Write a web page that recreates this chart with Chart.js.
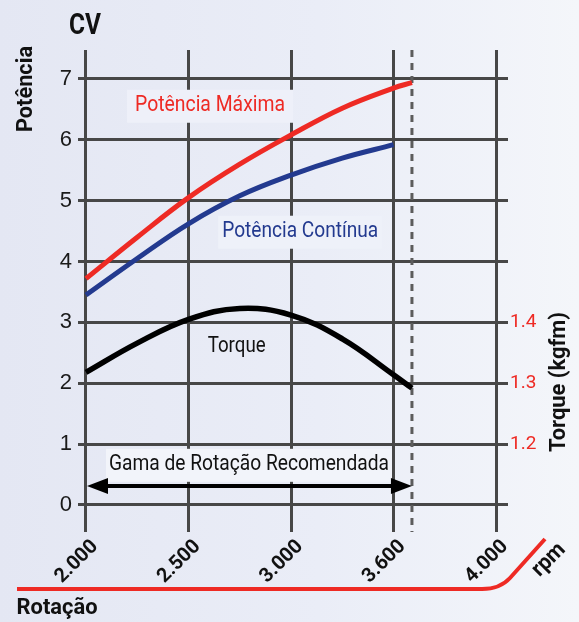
<!DOCTYPE html>
<html><head><meta charset="utf-8">
<script src="https://cdn.jsdelivr.net/npm/chart.js@4.4.1/dist/chart.umd.min.js"></script>
<style>
html,body{margin:0;padding:0;}
body{width:579px;height:622px;background:linear-gradient(90deg,#e4e7f3 0%,#eaedf7 55%,#f4f6fa 100%);overflow:hidden}
canvas{display:block}
</style></head><body>
<canvas id="c" width="579" height="622"></canvas>
<script>
// ---- data ----
const xTickLabels = ['2.000','2.500','3.000','3.600','4.000'];   // evenly spaced rpm marks
const yTicks = [0,1,2,3,4,5,6,7];                               // CV
const torqueTicks = [1.2,1.3,1.4];                              // kgfm
const posMaxima = [0,0.5,1,1.5,2,2.5,3,3.18];
const potMaxima = [3.72,4.40,5.05,5.60,6.08,6.52,6.85,6.94];
const posContinua = [0,0.5,1,1.5,2,2.5,3];
const potContinua = [3.45,4.05,4.62,5.08,5.42,5.70,5.92];
const posTorque = [0,0.5,1,1.5,2,2.5,3,3.18];
const torque = [1.318,1.366,1.405,1.423,1.412,1.373,1.314,1.292];
const rangeStart = 0, rangeEnd = 3.18;   // Gama de Rotação Recomendada

// ---- scale setup ----
const X_MIN = -0.078, X_MAX = 4.117, Y_MIN = -0.444, Y_MAX = 7.476;
const T_MIN = 1.1 + 0.1*Y_MIN, T_MAX = 1.1 + 0.1*Y_MAX;
const FONT = "Roboto,'DejaVu Sans',sans-serif";
const GRID = '#474747';
const RED = '#ee2a24', BLUE = '#233a8f';

const toPts = (xs, ys) => xs.map((v,i)=>({x:v, y:ys[i]}));

// draw text horizontally condensed to a given width (emulates a condensed typeface)
function fitText(ctx, text, cx, cy, font, color, width, rot){
  ctx.save();
  ctx.font = font;
  const w = ctx.measureText(text).width;
  ctx.translate(cx, cy);
  if (rot) ctx.rotate(rot);
  ctx.scale(width / w, 1);
  ctx.fillStyle = color; ctx.textAlign = 'center'; ctx.textBaseline = 'middle';
  ctx.fillText(text, 0, 0);
  ctx.restore();
}
function boxedText(ctx, text, cx, cy, font, color, width, padX, bg){
  if (bg){ ctx.fillStyle = bg; ctx.fillRect(cx - width/2 - padX, cy - 16, width + 2*padX, 33); }
  fitText(ctx, text, cx, cy, font, color, width, 0);
}

const deco = {
  id: 'deco',
  beforeDatasetsDraw(chart){
    const {ctx, chartArea: ca, scales: {x, y}} = chart;
    ctx.save();
    const xd = x.getPixelForValue(rangeEnd);
    ctx.strokeStyle = '#5c5c5c'; ctx.lineWidth = 3; ctx.setLineDash([7,6]);
    ctx.beginPath(); ctx.moveTo(xd, ca.top); ctx.lineTo(xd, ca.bottom); ctx.stroke();
    ctx.setLineDash([]);
    boxedText(ctx, 'Potência Máxima', x.getPixelForValue(1.21), y.getPixelForValue(6.56), `22px ${FONT}`, RED, 150, 8, '#eef0f9');
    boxedText(ctx, 'Potência Contínua', x.getPixelForValue(2.09), y.getPixelForValue(4.49), `22px ${FONT}`, BLUE, 156, 4, '#eef1f9');
    boxedText(ctx, 'Torque', x.getPixelForValue(1.47), y.getPixelForValue(2.61), `22px ${FONT}`, '#111', 58, 0, null);
    boxedText(ctx, 'Gama de Rotação Recomendada', x.getPixelForValue(1.59), y.getPixelForValue(0.66), `22px ${FONT}`, '#111', 280, 3, '#f2f4fa');
    ctx.restore();
  },
  afterDatasetsDraw(chart){
    const {ctx, scales: {x, y}} = chart;
    ctx.save();
    // arrow
    const ay = y.getPixelForValue(0.31);
    const x0 = x.getPixelForValue(rangeStart), x1 = x.getPixelForValue(rangeEnd);
    ctx.strokeStyle = '#000'; ctx.fillStyle = '#000'; ctx.lineWidth = 4;
    ctx.beginPath(); ctx.moveTo(x0 + 15, ay); ctx.lineTo(x1 - 15, ay); ctx.stroke();
    ctx.beginPath(); ctx.moveTo(x0 + 1, ay); ctx.lineTo(x0 + 22, ay - 8); ctx.lineTo(x0 + 22, ay + 8); ctx.closePath(); ctx.fill();
    ctx.beginPath(); ctx.moveTo(x1, ay); ctx.lineTo(x1 - 21, ay - 8); ctx.lineTo(x1 - 21, ay + 8); ctx.closePath(); ctx.fill();
    // titles
    fitText(ctx, 'CV', 85, 27, `bold 29px ${FONT}`, '#111', 32, 0);
    fitText(ctx, 'Rotação', 57, 608, `bold 22px ${FONT}`, '#111', 81, 0);
    fitText(ctx, 'Potência', 26, 89, `bold 22px ${FONT}`, '#111', 86, -Math.PI/2);
    fitText(ctx, 'Torque (kgfm)', 559, 382, `bold 22px ${FONT}`, '#111', 140, -Math.PI/2);
    fitText(ctx, 'rpm', 549, 560, `bold 22px ${FONT}`, '#111', 38, -Math.PI/4);
    // bottom red rotation line
    ctx.strokeStyle = RED; ctx.lineWidth = 4;
    ctx.beginPath(); ctx.moveTo(17, 589); ctx.lineTo(482, 589);
    ctx.quadraticCurveTo(500, 589, 510, 578); ctx.lineTo(545, 539); ctx.stroke();
    ctx.restore();
  }
};

new Chart(document.getElementById('c'), {
  type: 'line',
  data: {
    datasets: [
      {label:'Potência Máxima', data: toPts(posMaxima, potMaxima), borderColor: RED, yAxisID:'y'},
      {label:'Potência Contínua', data: toPts(posContinua, potContinua), borderColor: BLUE, yAxisID:'y'},
      {label:'Torque', data: toPts(posTorque, torque), borderColor: '#000', borderWidth: 5.5, yAxisID:'y2'}
    ]
  },
  options: {
    responsive: false, animation: false,
    layout: {padding: {top: 50, left: 0, right: 0, bottom: 0}},
    elements: {
      point: {radius: 0},
      line: {borderWidth: 5, tension: 0.4, fill: false}
    },
    plugins: {legend: {display: false}, tooltip: {enabled: false}},
    scales: {
      x: {
        type: 'linear', min: X_MIN, max: X_MAX,
        afterBuildTicks: s => { s.ticks = xTickLabels.map((_, i) => ({value: i})); },
        afterFit: s => { s.height = 90; },
        grid: {color: GRID, lineWidth: 3, drawTicks: false},
        border: {display: false},
        ticks: {
          autoSkip: false, minRotation: 45, maxRotation: 45, padding: 3, labelOffset: 9,
          color: '#111', font: {family: FONT, size: 20, weight: 'bold'},
          callback: v => xTickLabels[Math.round(v)]
        }
      },
      y: {
        type: 'linear', position: 'left', min: Y_MIN, max: Y_MAX,
        afterBuildTicks: s => { s.ticks = yTicks.map(v => ({value: v})); },
        afterFit: s => { s.width = 78; },
        grid: {color: GRID, lineWidth: 3, drawTicks: false},
        border: {display: false},
        ticks: {padding: 6, color: '#1a1a1a', font: {family: "'Liberation Sans',Arial,sans-serif", size: 22}}
      },
      y2: {
        type: 'linear', position: 'right', min: T_MIN, max: T_MAX,
        afterBuildTicks: s => { s.ticks = torqueTicks.map(v => ({value: v})); },
        afterFit: s => { s.width = 71; },
        grid: {display: false, drawTicks: false},
        border: {display: false},
        ticks: {padding: 2, color: RED, font: {family: FONT, size: 19}, callback: v => v.toFixed(1)}
      }
    }
  },
  plugins: [deco]
});
</script>
</body></html>
